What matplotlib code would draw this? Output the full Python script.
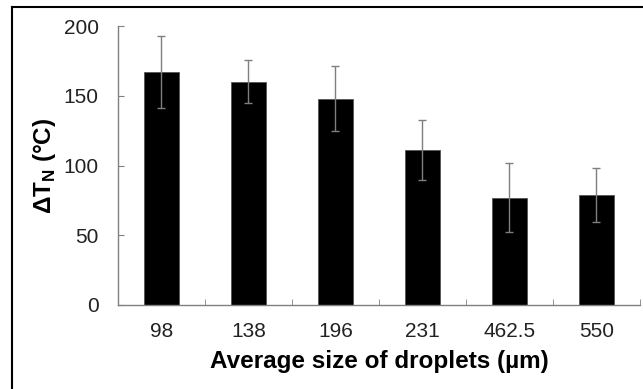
import numpy as np
import matplotlib
matplotlib.use("Agg")
import matplotlib.pyplot as plt
from matplotlib.lines import Line2D

plt.rcParams['font.family'] = ['Liberation Sans', 'DejaVu Sans']

# Data
sizes = ["98", "138", "196", "231", "462.5", "550"]
delta_tn = [167, 160, 148, 111, 77, 79]
errors = [26, 15.5, 23.5, 21.5, 25, 19.5]

fig = plt.figure(figsize=(6.43, 3.89), dpi=100)
ax = fig.add_axes([0.1835, 0.216, 0.8118, 0.717])

x = np.arange(len(sizes))
ax.bar(x, delta_tn, width=0.4, color="black", edgecolor="#555555", linewidth=0.6,
       yerr=errors, error_kw=dict(ecolor="#7f7f7f", elinewidth=1.0, capsize=3, capthick=1.0))

ax.set_xlim(-0.5, len(sizes) - 0.5)
ax.set_ylim(0, 200)
ax.set_yticks([0, 50, 100, 150, 200])
ax.set_xticks(x)
ax.set_xticklabels(sizes)
ax.set_xticks(np.arange(len(sizes) + 1) - 0.5, minor=True)

for side in ["top", "right"]:
    ax.spines[side].set_visible(False)
for side in ["left", "bottom"]:
    ax.spines[side].set_color("#808080")
    ax.spines[side].set_linewidth(1.0)

ax.tick_params(axis="y", direction="in", length=4.5, color="#808080", labelsize=15, pad=14, labelcolor="#222222")
ax.tick_params(axis="x", which="major", length=0, labelsize=15, pad=12, labelcolor="#222222")
ax.tick_params(axis="x", which="minor", direction="in", length=4.5, color="#808080")

ax.set_xlabel("Average size of droplets (µm)", fontsize=17.5, fontweight="bold", labelpad=7)
ax.set_ylabel("ΔT$_\\mathregular{N}$ (°C)", fontsize=17.5, fontweight="bold", labelpad=4)

# frame lines at top and left of the figure
fig.add_artist(Line2D([12 / 643, 12 / 643], [0, 1 - 7 / 389], transform=fig.transFigure, color="black", lw=1.5))
fig.add_artist(Line2D([12 / 643, 1], [1 - 7 / 389, 1 - 7 / 389], transform=fig.transFigure, color="black", lw=1.5))

fig.savefig("out.png", dpi=100)
